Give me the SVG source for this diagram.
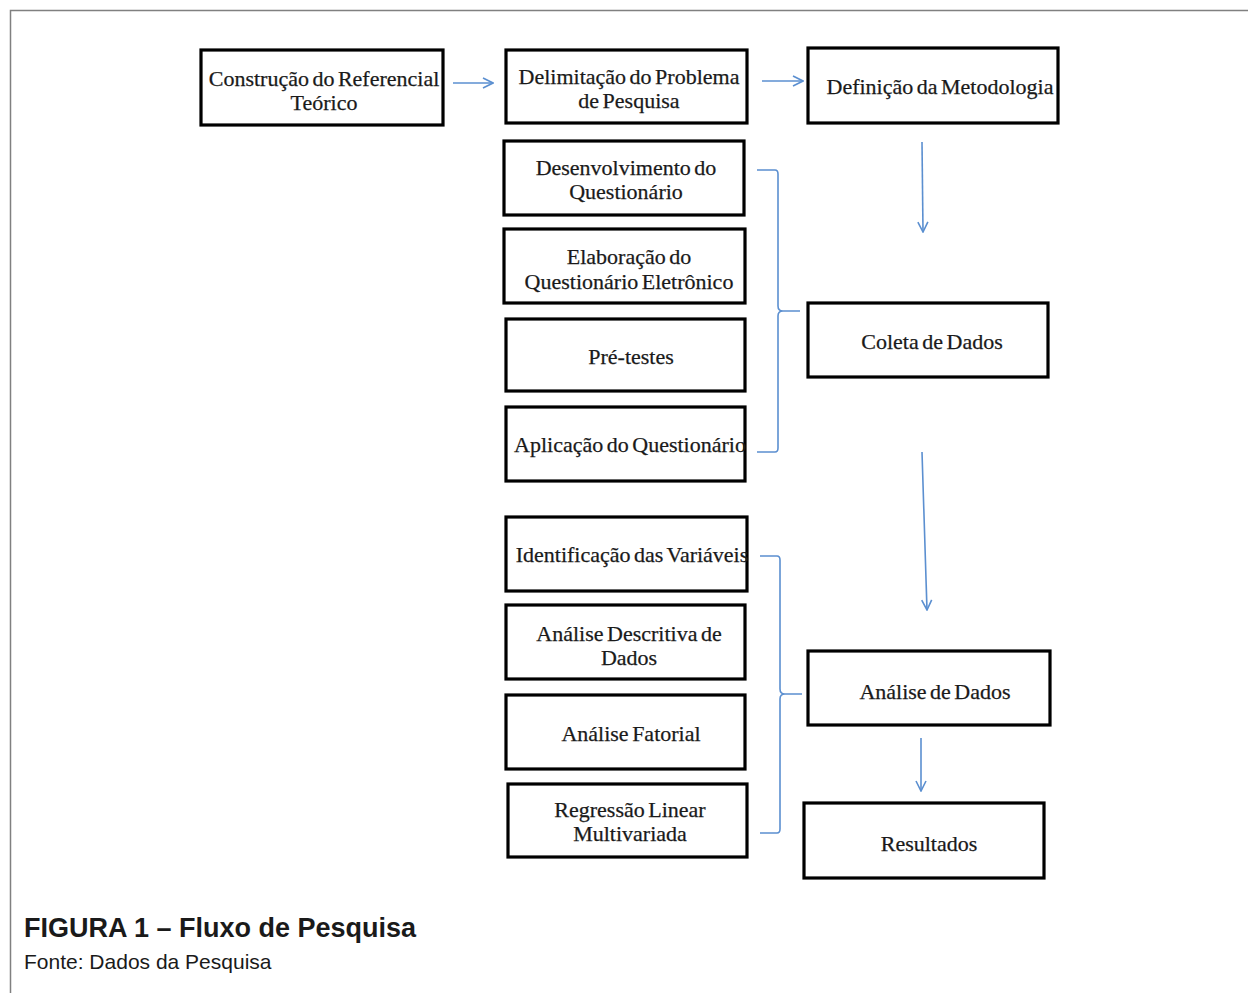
<svg xmlns="http://www.w3.org/2000/svg" width="1248" height="993" viewBox="0 0 1248 993">
<defs>
<style>
.box{fill:#fff;stroke:#000;stroke-width:3.2}
.t{font-family:"Liberation Serif",serif;font-size:22px;fill:#1a1a1a;stroke:#1a1a1a;stroke-width:0.25;text-anchor:middle;word-spacing:-2px}
.c{fill:none;stroke:#5b8fd0;stroke-width:1.6}
.cap{font-family:"Liberation Sans",Arial,sans-serif;fill:#1a1a1a}
</style>
<marker id="ah" viewBox="0 0 12 12" refX="11" refY="6" markerWidth="12" markerHeight="12" markerUnits="userSpaceOnUse" orient="auto">
<path d="M1,1 L11,6 L1,11" fill="none" stroke="#5b8fd0" stroke-width="1.6"/>
</marker>
</defs>
<rect x="0" y="0" width="1248" height="993" fill="#fff"/>
<path d="M10.5,993 V10.5 H1248" fill="none" stroke="#808080" stroke-width="1.5"/>

<g id="connectors">
<line class="c" x1="453" y1="83" x2="493" y2="83" marker-end="url(#ah)"/>
<line class="c" x1="762" y1="81" x2="803" y2="81" marker-end="url(#ah)"/>
<line class="c" x1="922" y1="142" x2="923" y2="232" marker-end="url(#ah)"/>
<line class="c" x1="922" y1="452" x2="927" y2="610" marker-end="url(#ah)"/>
<line class="c" x1="921" y1="738" x2="921" y2="791" marker-end="url(#ah)"/>
<path class="c" d="M757,170 H775 Q778,170 778,174 V306 Q778,311 783,311 H800 M783,311 Q778,311 778,316 V448 Q778,452 775,452 H757"/>
<path class="c" d="M760,556 H777 Q780,556 780,560 V689 Q780,694 785,694 H802 M785,694 Q780,694 780,699 V829 Q780,833 777,833 H760"/>
</g>

<g id="n1"><rect class="box" x="201" y="50" width="242" height="75"/><text class="t" x="324" y="86">Construção do Referencial</text><text class="t" x="324" y="110">Teórico</text></g>
<g id="n2"><rect class="box" x="506" y="50" width="241" height="73"/><text class="t" x="629" y="84">Delimitação do Problema</text><text class="t" x="629" y="108">de Pesquisa</text></g>
<g id="n3"><rect class="box" x="808" y="48" width="250" height="75"/><text class="t" x="940" y="94">Definição da Metodologia</text></g>
<g id="n4"><rect class="box" x="504" y="141" width="240" height="74"/><text class="t" x="626" y="175">Desenvolvimento do</text><text class="t" x="626" y="199">Questionário</text></g>
<g id="n5"><rect class="box" x="504" y="229" width="241" height="74"/><text class="t" x="629" y="264">Elaboração do</text><text class="t" x="629" y="289">Questionário Eletrônico</text></g>
<g id="n6"><rect class="box" x="506" y="319" width="239" height="72"/><text class="t" x="631" y="364">Pré-testes</text></g>
<g id="n7"><rect class="box" x="506" y="407" width="239" height="74"/><text class="t" x="630" y="452">Aplicação do Questionário</text></g>
<g id="n8"><rect class="box" x="808" y="303" width="240" height="74"/><text class="t" x="932" y="349">Coleta de Dados</text></g>
<g id="n9"><rect class="box" x="506" y="517" width="241" height="74"/><text class="t" x="632" y="562">Identificação das Variáveis</text></g>
<g id="n10"><rect class="box" x="506" y="605" width="239" height="74"/><text class="t" x="629" y="641">Análise Descritiva de</text><text class="t" x="629" y="665">Dados</text></g>
<g id="n11"><rect class="box" x="506" y="695" width="239" height="74"/><text class="t" x="631" y="741">Análise Fatorial</text></g>
<g id="n12"><rect class="box" x="508" y="784" width="239" height="73"/><text class="t" x="630" y="817">Regressão Linear</text><text class="t" x="630" y="841">Multivariada</text></g>
<g id="n13"><rect class="box" x="808" y="651" width="242" height="74"/><text class="t" x="935" y="699">Análise de Dados</text></g>
<g id="n14"><rect class="box" x="804" y="803" width="240" height="75"/><text class="t" x="929" y="851">Resultados</text></g>

<text class="cap" x="24" y="937" font-size="27" font-weight="bold">FIGURA 1 – Fluxo de Pesquisa</text>
<text class="cap" x="24" y="969" font-size="21">Fonte: Dados da Pesquisa</text>
</svg>
